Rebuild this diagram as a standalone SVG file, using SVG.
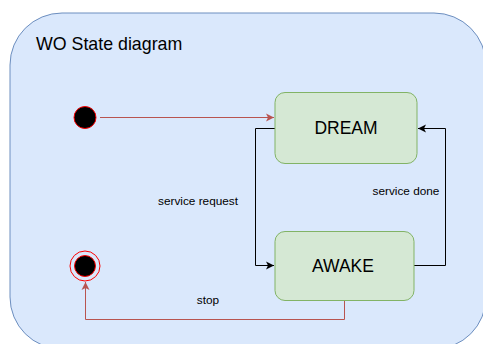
<svg xmlns="http://www.w3.org/2000/svg" width="483" height="344" viewBox="0 0 483 344">
<defs>
<style>
text{font-family:"Liberation Sans",Arial,sans-serif;fill:#000}
.state{fill:#d5e8d4;stroke:#82b366;stroke-width:1}
.lbl{font-size:11.8px;text-anchor:middle}
.big{font-size:17.5px;text-anchor:middle}
.blk{fill:none;stroke:#000;stroke-width:1}
.red{fill:none;stroke:#b85450;stroke-width:1}
</style>
<marker id="ab" viewBox="0 0 10 10" refX="9" refY="5" markerWidth="10" markerHeight="10" markerUnits="userSpaceOnUse" orient="auto"><path d="M1,1 L9,5 L1,9 L3,5 Z" fill="#000"/></marker>
<marker id="ar" viewBox="0 0 10 10" refX="9" refY="5" markerWidth="10" markerHeight="10" markerUnits="userSpaceOnUse" orient="auto"><path d="M1,1 L9,5 L1,9 L3,5 Z" fill="#b85450"/></marker>
</defs>
<rect id="container" x="10" y="13" width="476" height="336" rx="52" fill="#dae8fc" stroke="#6c8ebf"/>
<text x="36" y="50" style="font-size:17.8px">WO State diagram</text>
<g id="connectors">
<path class="red" d="M100,117.5 H274" marker-end="url(#ar)"/>
<path class="blk" d="M275,128.5 H255.5 V265.5 H274" marker-end="url(#ab)"/>
<path class="blk" d="M414,265.5 H445.5 V128.5 H418" marker-end="url(#ab)"/>
<path class="red" d="M344.5,300 V319.5 H85.5 V282" marker-end="url(#ar)"/>
<text class="lbl" x="198" y="205">service request</text>
<text class="lbl" x="406" y="195">service done</text>
<text class="lbl" x="208" y="304">stop</text>
</g>
<g id="start"><circle cx="85" cy="117.5" r="11" fill="#000" stroke="#ff0000"/></g>
<g id="dream"><rect class="state" x="275" y="92.5" width="142" height="71" rx="10"/><text class="big" x="346" y="134">DREAM</text></g>
<g id="awake"><rect class="state" x="275" y="231.5" width="139" height="69" rx="10"/><text class="big" x="343" y="271.5">AWAKE</text></g>
<g id="end"><circle cx="85" cy="266" r="15" fill="none" stroke="#ff0000"/><circle cx="85" cy="266" r="10.5" fill="#000" stroke="#ff0000"/></g>
</svg>
